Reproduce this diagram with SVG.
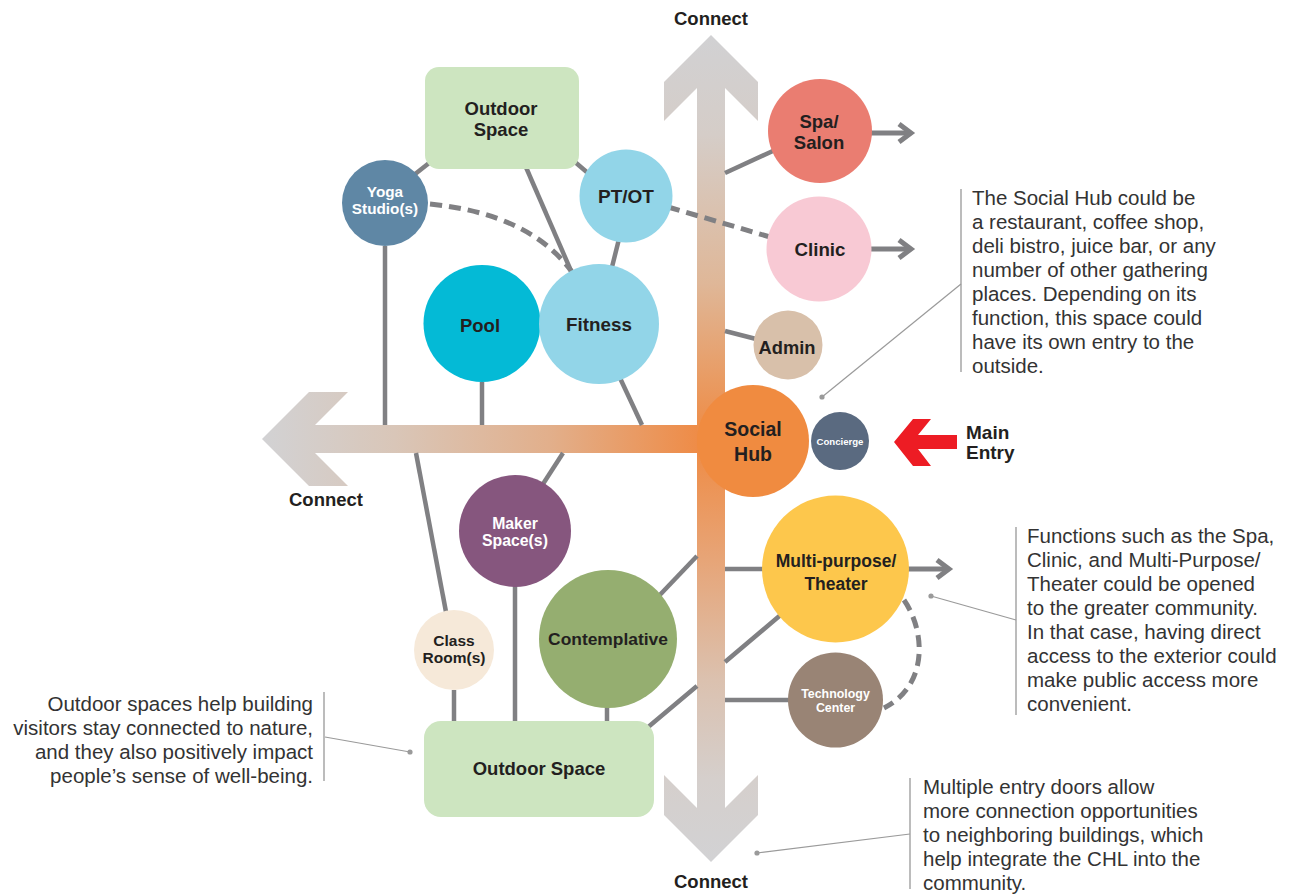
<svg xmlns="http://www.w3.org/2000/svg" width="1298" height="894" viewBox="0 0 1298 894">
<defs>
<linearGradient id="gv" gradientUnits="userSpaceOnUse" x1="0" y1="35" x2="0" y2="862">
<stop offset="0" stop-color="#d1d1d3"/>
<stop offset="0.12" stop-color="#d5cdc8"/>
<stop offset="0.3" stop-color="#dfb798"/>
<stop offset="0.49" stop-color="#ef8a42"/>
<stop offset="0.62" stop-color="#e8a272"/>
<stop offset="0.78" stop-color="#dbc1af"/>
<stop offset="0.9" stop-color="#d5cfcc"/>
<stop offset="1" stop-color="#d2d2d4"/>
</linearGradient>
<linearGradient id="gh" gradientUnits="userSpaceOnUse" x1="262" y1="0" x2="705" y2="0">
<stop offset="0" stop-color="#d2d2d4"/>
<stop offset="0.3" stop-color="#d9c6b8"/>
<stop offset="0.65" stop-color="#e2af8b"/>
<stop offset="1" stop-color="#ef8a44"/>
</linearGradient>
<marker id="ah" markerUnits="userSpaceOnUse" markerWidth="24" markerHeight="24" refX="16" refY="12" orient="auto" overflow="visible">
<path d="M4,3 L16,12 L4,21" fill="none" stroke="#808083" stroke-width="5" stroke-linejoin="miter"/>
</marker>
<style>
.ln{fill:none;stroke:#808083;stroke-width:4.5}
.dash{fill:none;stroke:#808083;stroke-width:5;stroke-dasharray:12 7}
.out{fill:none;stroke:#808083;stroke-width:5;marker-end:url(#ah)}
.lbl{font-family:"Liberation Sans",Arial,sans-serif;font-weight:bold;fill:#231f20;text-anchor:middle}
.wl{fill:#ffffff}
.note{font-family:"Liberation Sans",Arial,sans-serif;font-size:20.5px;fill:#333333}
.bar{stroke:#a6a6a6;stroke-width:1.5;fill:none}
.lead{stroke:#9a9a9a;stroke-width:1.2;fill:none}
.dot{fill:#9a9a9a}
.con{font-family:"Liberation Sans",Arial,sans-serif;font-weight:bold;font-size:18.5px;fill:#231f20;text-anchor:middle}
</style>
</defs>
<rect width="1298" height="894" fill="#ffffff"/>

<g id="arrows">
<polygon id="arrow-h" fill="url(#gh)" points="262,439 309,392 348,392 315,425 711,425 711,453 315,453 348,486 309,486"/>
<polygon id="arrow-v" fill="url(#gv)" points="711,35 758,82 758,121 725,88 725,808 758,775 758,815 711,862 664,815 664,775 697,808 697,88 664,121 664,82"/>
<polygon id="main-entry-arrow" fill="#ed1c24" points="894,442 913,419 931,419 918,435 957,435 957,449 918,449 931,466 913,466"/>
</g>

<g id="connectors">
<path class="ln" d="M385,246 V425"/>
<path class="ln" d="M482,382 V425"/>
<path class="ln" d="M620,378 L642,425"/>
<path class="ln" d="M416,453 L446,612"/>
<path class="ln" d="M563,453 L543,484"/>
<path class="ln" d="M515,586 V721"/>
<path class="ln" d="M454,690 V721"/>
<path class="ln" d="M607,706 V721"/>
<path class="ln" d="M655,600 L697,556"/>
<path class="ln" d="M725,569 H764"/>
<path class="ln" d="M647,728 L697,686 M725,662 L790,607"/>
<path class="ln" d="M725,700 H790"/>
<path class="ln" d="M725,331 L760,340"/>
<path class="ln" d="M725,173 L775,150"/>
<path class="ln" d="M405,182 L438,156"/>
<path class="ln" d="M525,165 L575,280"/>
<path class="ln" d="M568,156 L596,180"/>
<path class="ln" d="M620,235 L610,275"/>
<path class="dash" d="M430,204 Q530,214 572,272"/>
<path class="dash" d="M668,207 L770,237"/>
<path class="dash" d="M904,600 C926,632 928,686 884,708"/>
<path class="out" d="M870,133 H911"/>
<path class="out" d="M870,249 H911"/>
<path class="out" d="M908,569 H949"/>
</g>

<g id="n-outdoor-top">
<rect x="425" y="67" width="154" height="102" rx="14" fill="#cde5c0"/>
<text class="lbl" font-size="18.5" x="501" y="115">Outdoor</text>
<text class="lbl" font-size="18.5" x="501" y="135.5">Space</text>
</g>
<g id="n-yoga">
<circle cx="385" cy="203" r="43" fill="#5f87a5"/>
<text class="lbl wl" font-size="15.3" x="385" y="197">Yoga</text>
<text class="lbl wl" font-size="15.3" x="385" y="214">Studio(s)</text>
</g>
<g id="n-ptot">
<circle cx="626" cy="196" r="46.5" fill="#92d5e8"/>
<text class="lbl" font-size="19" x="626" y="203">PT/OT</text>
</g>
<g id="n-spa">
<circle cx="820" cy="131" r="52" fill="#ea7d71"/>
<text class="lbl" font-size="18.5" x="819" y="127.5">Spa/</text>
<text class="lbl" font-size="18.5" x="819" y="148.5">Salon</text>
</g>
<g id="n-clinic">
<circle cx="819" cy="249" r="52.5" fill="#f8c9d4"/>
<text class="lbl" font-size="18.7" x="820" y="256">Clinic</text>
</g>
<g id="n-pool">
<circle cx="482" cy="323.5" r="58.5" fill="#04bad6"/>
<text class="lbl" font-size="18.5" x="480" y="331.5">Pool</text>
</g>
<g id="n-fitness">
<circle cx="599" cy="324" r="60" fill="#92d5e8"/>
<text class="lbl" font-size="18.8" x="599" y="331">Fitness</text>
</g>
<g id="n-admin">
<circle cx="788" cy="345" r="34.5" fill="#d8c0aa"/>
<text class="lbl" font-size="18.3" x="787" y="354">Admin</text>
</g>
<g id="n-socialhub">
<circle cx="753" cy="441" r="56" fill="#f08b40"/>
<text class="lbl" font-size="19.5" x="753" y="436">Social</text>
<text class="lbl" font-size="19.5" x="753" y="461">Hub</text>
</g>
<g id="n-concierge">
<circle cx="840" cy="441" r="29" fill="#5a6a80"/>
<text class="lbl wl" font-size="9.6" x="840" y="445">Concierge</text>
</g>
<g id="n-maker">
<circle cx="515" cy="531" r="56" fill="#86567e"/>
<text class="lbl wl" font-size="15.8" x="515" y="528.5">Maker</text>
<text class="lbl wl" font-size="15.8" x="515" y="546">Space(s)</text>
</g>
<g id="n-multipurpose">
<circle cx="835.5" cy="569" r="73.5" fill="#fdc74c"/>
<text class="lbl" font-size="17.5" x="836" y="567">Multi-purpose/</text>
<text class="lbl" font-size="17.5" x="836" y="590">Theater</text>
</g>
<g id="n-contemplative">
<circle cx="608" cy="639" r="69" fill="#95ae70"/>
<text class="lbl" font-size="17.4" x="608" y="644.5">Contemplative</text>
</g>
<g id="n-classroom">
<circle cx="454" cy="650" r="40" fill="#f6e9d9"/>
<text class="lbl" font-size="15.5" x="454" y="646">Class</text>
<text class="lbl" font-size="15.5" x="454" y="663">Room(s)</text>
</g>
<g id="n-technology">
<circle cx="835.5" cy="700" r="47.5" fill="#998475"/>
<text class="lbl wl" font-size="12.4" x="835.5" y="698">Technology</text>
<text class="lbl wl" font-size="12.4" x="835.5" y="712">Center</text>
</g>
<g id="n-outdoor-bottom">
<rect x="424" y="721" width="230" height="96" rx="17" fill="#cde5c0"/>
<text class="lbl" font-size="18.5" x="539" y="775">Outdoor Space</text>
</g>

<g id="labels">
<text class="con" x="711" y="25">Connect</text>
<text class="con" x="326" y="506">Connect</text>
<text class="con" x="711" y="888">Connect</text>
<text font-family="Liberation Sans, Arial, sans-serif" font-weight="bold" font-size="19" fill="#231f20" x="966" y="439">Main</text>
<text font-family="Liberation Sans, Arial, sans-serif" font-weight="bold" font-size="19" fill="#231f20" x="966" y="458.5">Entry</text>
</g>

<g id="note-socialhub">
<path class="bar" d="M961,189 V372"/>
<path class="lead" d="M961,284 L822,397"/>
<circle class="dot" cx="822" cy="397" r="2.6"/>
<text class="note" x="972"><tspan x="972" y="205">The Social Hub could be</tspan><tspan x="972" y="229">a restaurant, coffee shop,</tspan><tspan x="972" y="253">deli bistro, juice bar, or any</tspan><tspan x="972" y="277">number of other gathering</tspan><tspan x="972" y="301">places. Depending on its</tspan><tspan x="972" y="325">function, this space could</tspan><tspan x="972" y="349">have its own entry to the</tspan><tspan x="972" y="373">outside.</tspan></text>
</g>
<g id="note-functions">
<path class="bar" d="M1016,527 V715"/>
<path class="lead" d="M1016,620 L931,596"/>
<circle class="dot" cx="931" cy="596" r="2.6"/>
<text class="note"><tspan x="1027" y="543">Functions such as the Spa,</tspan><tspan x="1027" y="567">Clinic, and Multi-Purpose/</tspan><tspan x="1027" y="591">Theater could be opened</tspan><tspan x="1027" y="615">to the greater community.</tspan><tspan x="1027" y="639">In that case, having direct</tspan><tspan x="1027" y="663">access to the exterior could</tspan><tspan x="1027" y="687">make public access more</tspan><tspan x="1027" y="711">convenient.</tspan></text>
</g>
<g id="note-outdoor">
<path class="bar" d="M324,692 V781"/>
<path class="lead" d="M325,737 L410,752"/>
<circle class="dot" cx="410" cy="752" r="2.6"/>
<text class="note" text-anchor="end"><tspan x="313" y="711">Outdoor spaces help building</tspan><tspan x="313" y="735">visitors stay connected to nature,</tspan><tspan x="313" y="759">and they also positively impact</tspan><tspan x="313" y="783">people’s sense of well-being.</tspan></text>
</g>
<g id="note-entries">
<path class="bar" d="M910,778 V889"/>
<path class="lead" d="M910,834 L757,853"/>
<circle class="dot" cx="757" cy="853" r="2.6"/>
<text class="note"><tspan x="923" y="794">Multiple entry doors allow</tspan><tspan x="923" y="818">more connection opportunities</tspan><tspan x="923" y="842">to neighboring buildings, which</tspan><tspan x="923" y="866">help integrate the CHL into the</tspan><tspan x="923" y="889.5">community.</tspan></text>
</g>
</svg>
